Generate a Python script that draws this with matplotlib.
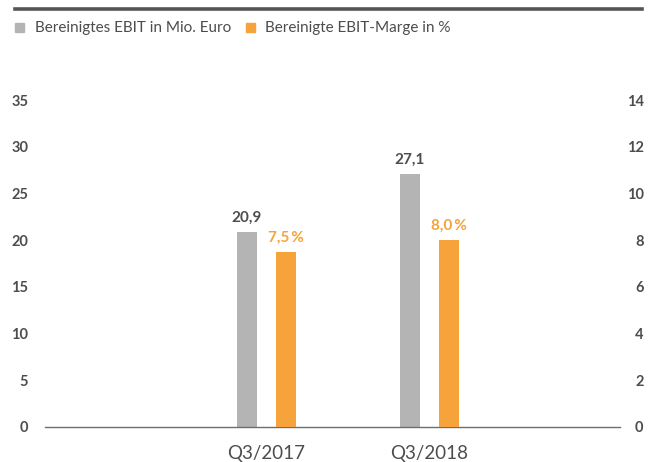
import matplotlib

matplotlib.use("Agg")

import matplotlib.pyplot as plt
import numpy as np
from matplotlib.lines import Line2D
from matplotlib.patches import Rectangle

categories = ["Q3/2017", "Q3/2018"]
ebit = [20.9, 27.1]
margin = [7.5, 8.0]
left_ticks = [0, 5, 10, 15, 20, 25, 30, 35]
right_ticks = [0, 2, 4, 6, 8, 10, 12, 14]
legend_labels = ["Bereinigtes EBIT in Mio. Euro", "Bereinigte EBIT-Marge in %"]

GRAY = "#b3b4b3"
ORANGE = "#f5a33a"
TEXT = "#4d4d4d"
W, H = 654, 462


def de(v):
    return f"{v:.1f}".replace(".", ",")


plt.rcParams["font.family"] = ["Lato", "DejaVu Sans"]

fig = plt.figure(figsize=(W / 100, H / 100), dpi=100)
ax = fig.add_axes([45 / W, 1 - 427 / H, 575 / W, 327 / H])
ax2 = ax.twinx()

x = np.arange(len(categories))
bw = 0.123
off = 0.12
ax.bar(x - off, ebit, width=bw, color=GRAY, zorder=2)
ax2.bar(x + off, margin, width=bw, color=ORANGE, zorder=2)

for xi, v in zip(x, ebit):
    ax.text(xi - off, v + 0.7, de(v), ha="center", va="bottom",
            fontsize=11, fontweight="bold", color=TEXT)
for xi, v in zip(x, margin):
    ax2.text(xi + off, v + 0.3, de(v) + "\u2009%", ha="center", va="bottom",
             fontsize=11, fontweight="bold", color=ORANGE)

ax.set_xlim(-1.36, 2.17)
ax.set_ylim(0, 35)
ax2.set_ylim(0, 14)
ax.set_xticks(x)
ax.set_xticklabels(categories, fontsize=13.5, color=TEXT)
ax.set_yticks(left_ticks)
ax2.set_yticks(right_ticks)
ax.tick_params(axis="x", length=0, pad=13)
ax.tick_params(axis="y", length=0, pad=12, labelsize=10.5, labelcolor=TEXT)
ax2.tick_params(axis="y", length=0, pad=17, labelsize=10.5, labelcolor=TEXT)
for lbl in ax.get_yticklabels():
    lbl.set_fontweight("bold")
for lbl in ax2.get_yticklabels():
    lbl.set_fontweight("bold")
    lbl.set_horizontalalignment("right")

for a in (ax, ax2):
    for s in a.spines.values():
        s.set_visible(False)
ax.spines["bottom"].set_visible(True)
ax.spines["bottom"].set_color("#6e6e6e")
ax.spines["bottom"].set_linewidth(1.0)

# header rule and legend
fig.add_artist(Line2D([15 / W, 642 / W], [1 - 8.5 / H, 1 - 8.5 / H],
                      color="#555555", linewidth=2.6))
for px, color, label, tx in [(15, GRAY, legend_labels[0], 35),
                             (246, ORANGE, legend_labels[1], 265)]:
    fig.add_artist(Rectangle((px / W, 1 - 32 / H), 9 / W, 9 / H,
                             color=color, transform=fig.transFigure))
    fig.text(tx / W, 1 - 28 / H, label, fontsize=11, color=TEXT, va="center")

fig.savefig("out.png", dpi=100)
